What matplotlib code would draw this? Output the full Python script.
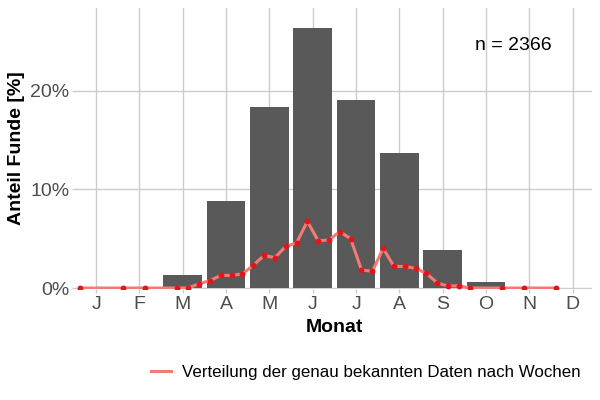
import numpy as np
import matplotlib
matplotlib.use("Agg")
import matplotlib.pyplot as plt
from matplotlib.lines import Line2D

plt.rcParams['font.family'] = ['Liberation Sans', 'DejaVu Sans']

# monthly share of finds (%)
months = ["J", "F", "M", "A", "M", "J", "J", "A", "S", "O", "N", "D"]
monthShare = [0, 0, 1.35, 8.85, 18.4, 26.4, 19.05, 13.65, 3.82, 0.58, 0, 0]

# weekly share of exactly known dates (%)
weeks = [1, 5, 7, 10, 11, 12, 13, 14, 15, 16, 17, 18, 19, 20, 21, 22, 23, 24,
         25, 26, 27, 28, 29, 30, 31, 32, 33, 34, 35, 36, 37, 40, 42, 45]
weekShare = [0, 0, 0, 0, 0, 0.44, 0.74, 1.28, 1.28, 1.42, 2.3, 3.3, 3.08, 4.22,
             4.57, 6.76, 4.8, 4.87, 5.72, 5.0, 1.83, 1.69, 4.02, 2.19, 2.19,
             1.99, 1.48, 0.51, 0.2, 0.23, 0, 0, 0, 0]

nTotal = 2366

fig = plt.figure(figsize=(6, 4), dpi=100)
ax = fig.add_axes([0.127, 0.2775, 0.86, 0.7025])

xm = np.arange(1, 13)
ax.bar(xm, monthShare, width=0.89, color="#595959", zorder=2)

# weeks placed on the month axis (4 weeks per month)
xw = (np.array(weeks) - 0.5) / 4 + 0.5
ax.plot(xw, weekShare, color="#F47A74", lw=2.2, zorder=3)
ax.plot(xw, weekShare, "o", color="#E3141B", ms=3.2, zorder=4)

ax.set_xlim(0.54, 12.45)
ax.set_ylim(-0.1, 28.4)
ax.set_xticks(xm)
ax.set_xticklabels(months)
ax.set_yticks([0, 10, 20])
ax.set_yticklabels(["0%", "10%", "20%"])

ax.grid(True, color="#CCCCCC", lw=1.0, zorder=0)
for s in ax.spines.values():
    s.set_visible(False)
ax.tick_params(colors="#CCCCCC", labelcolor="#4D4D4D", labelsize=14,
               length=3, width=1, pad=2)

ax.set_xlabel("Monat", fontsize=14, fontweight="bold", labelpad=4)
ax.set_ylabel("Anteil Funde [%]", fontsize=14, fontweight="bold", labelpad=4)

ax.text(11.52, 24.6, "n = " + str(nTotal), fontsize=14, ha="right", va="center")

handle = Line2D([], [], color="#F47A74", lw=2.2)
fig.legend([handle], ["Verteilung der genau bekannten Daten nach Wochen"],
           loc="center", bbox_to_anchor=(0.61, 0.07), frameon=False,
           fontsize=12.2, handlelength=1.2, handletextpad=0.65)

fig.savefig("out.png", dpi=100)
